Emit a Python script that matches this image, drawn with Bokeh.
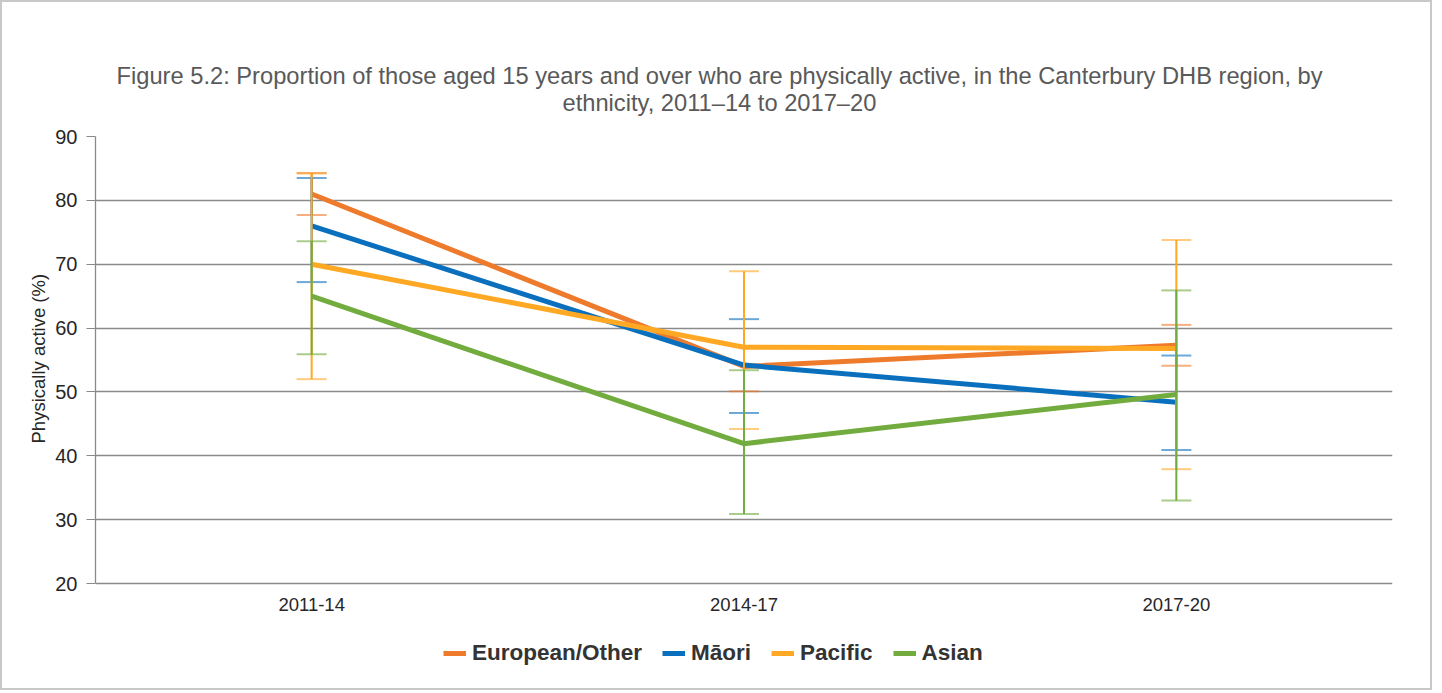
from bokeh.plotting import figure
from bokeh.models import FactorRange, Range1d, Title, Legend, LegendItem, ColumnDataSource
from bokeh.core.properties import value
from bokeh.embed import file_html
from bokeh.resources import INLINE

periods = ["2011-14", "2014-17", "2017-20"]
series = ["European/Other", "Māori", "Pacific", "Asian"]
colors = ["#EE7A2C", "#0A70BE", "#FFA824", "#72AC3F"]
values = {
    "European/Other": [81.0, 54.0, 57.3],
    "Māori": [76.0, 54.2, 48.4],
    "Pacific": [70.0, 57.0, 56.8],
    "Asian": [65.0, 41.9, 49.6],
}
lower = {
    "European/Other": [77.7, 50.1, 54.1],
    "Māori": [67.2, 46.7, 40.9],
    "Pacific": [52.0, 44.2, 37.9],
    "Asian": [55.9, 30.9, 33.0],
}
upper = {
    "European/Other": [84.3, 57.2, 60.5],
    "Māori": [83.5, 61.4, 55.7],
    "Pacific": [84.2, 68.9, 73.8],
    "Asian": [73.6, 53.4, 65.9],
}
y_ticks = [20, 30, 40, 50, 60, 70, 80, 90]
y_min, y_max = 20, 90

FONT = "Liberation Sans"

# layout geometry (pixels): frame spans down to the legend area; value axis occupies upper part
FRAME_TOP, FRAME_BOTTOM, AXIS_BOTTOM = 136, 680, 583
range_start = y_min - (FRAME_BOTTOM - AXIS_BOTTOM) * (y_max - y_min) / (AXIS_BOTTOM - FRAME_TOP)

p = figure(
    width=1432, height=690,
    x_range=FactorRange(*periods, range_padding=0),
    y_range=Range1d(range_start, y_max),
    x_axis_location=None,
    output_backend="svg", toolbar_location=None,
    min_border_left=93, min_border_right=42, min_border_top=134, min_border_bottom=12,
)
p.styles = {"border": "2px solid #c8c8c8"}
p.outline_line_color = None
p.background_fill_color = "white"
p.xgrid.grid_line_color = None
p.ygrid.grid_line_color = "#8a8a8a"
p.ygrid.grid_line_width = 1.3
p.yaxis.ticker = y_ticks
p.yaxis.bounds = (y_min, y_max)
p.yaxis.axis_line_color = "#8a8a8a"
p.yaxis.axis_line_width = 1.3
p.yaxis.major_tick_line_color = "#8a8a8a"
p.yaxis.major_tick_out = 9
p.yaxis.major_tick_in = 0
p.yaxis.minor_tick_line_color = None
p.yaxis.major_label_text_font = FONT
p.yaxis.major_label_text_font_size = "20px"
p.yaxis.major_label_text_color = "#262626"
p.yaxis.major_label_standoff = 9

# y axis title, centred on the 20-90 value span
ytitle = Title(text="Physically active (%)", align="left", vertical_align="middle",
               offset=FRAME_BOTTOM - 443, standoff=6, text_font=FONT,
               text_font_size="18.5px", text_font_style="normal", text_color="#262626")
p.add_layout(ytitle, "left")

# category labels under the value axis
p.text(x=periods, y=[y_min] * len(periods), text=periods, y_offset=21,
       text_align="center", text_baseline="middle", text_font=value(FONT),
       text_font_size="18.5px", text_color="#262626")

items = []
for name, col in zip(series, colors):
    src = ColumnDataSource(dict(x=periods, y=values[name], lo=lower[name], hi=upper[name]))
    p.segment(x0="x", y0="lo", x1="x", y1="hi", source=src, line_color=col, line_width=2)
    p.scatter(x="x", y="lo", source=src, marker="dash", size=30, line_color=col, line_width=2, line_alpha=0.6)
    p.scatter(x="x", y="hi", source=src, marker="dash", size=30, line_color=col, line_width=2, line_alpha=0.6)
    r = p.line(x="x", y="y", source=src, line_color=col, line_width=5)
    items.append(LegendItem(label=name, renderers=[r]))

legend = Legend(items=items, orientation="horizontal", location=(348, 14),
                label_text_font=FONT, label_text_font_size="22.5px", label_text_font_style="bold",
                label_text_color="#333333", glyph_width=23, glyph_height=20, label_standoff=6,
                spacing=20, border_line_color=None, background_fill_alpha=0, margin=0, padding=8)
p.add_layout(legend, "center")

title1 = "Figure 5.2: Proportion of those aged 15 years and over who are physically active, in the Canterbury DHB region, by"
title2 = "ethnicity, 2011\u201314 to 2017\u201320"
spacer = Title(text=" ", text_font_size="1px", standoff=16)
t2 = Title(text=title2, align="left", vertical_align="top", text_font=FONT, text_font_size="23.7px",
           text_font_style="normal", text_color="#595959", standoff=0, offset=467)
t1 = Title(text=title1, align="left", vertical_align="bottom", text_font=FONT, text_font_size="23.7px",
           text_font_style="normal", text_color="#595959", standoff=2, offset=21)
p.add_layout(spacer, "above")
p.add_layout(t2, "above")
p.add_layout(t1, "above")

open("out.html", "w").write(file_html(p, INLINE))
